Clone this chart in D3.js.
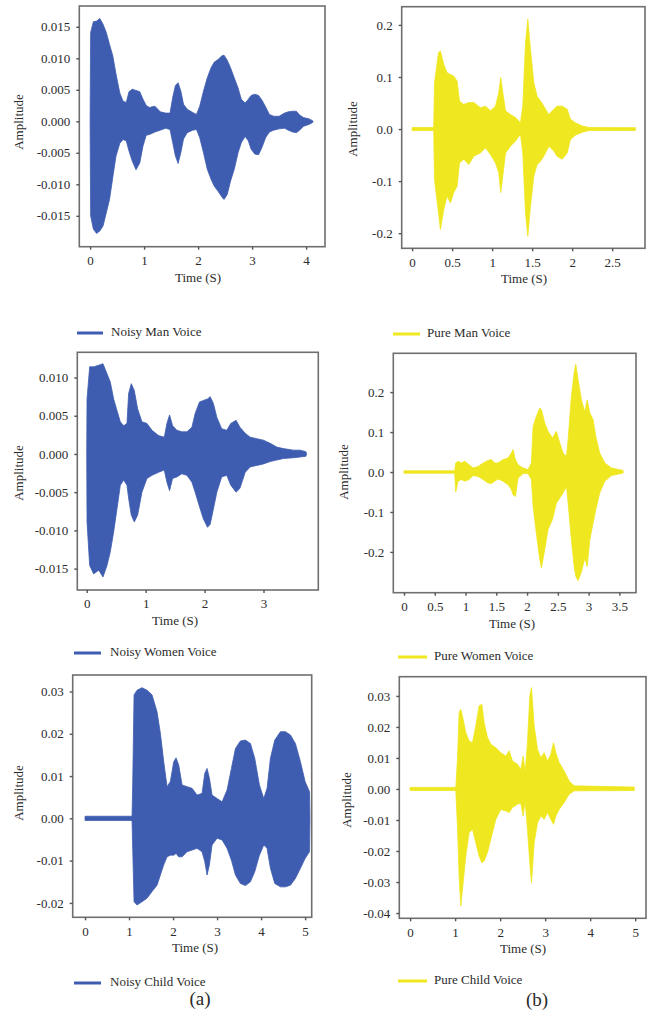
<!DOCTYPE html>
<html>
<head>
<meta charset="utf-8">
<script src="https://cdn.jsdelivr.net/npm/d3@7"></script>
<style>
  html, body { margin: 0; padding: 0; background: #fff; }
  svg { display: block; }
  text { font-family: "Liberation Serif", "Times New Roman", serif; fill: #2b2b2b; }
</style>
</head>
<body>
<svg id="chart" width="652" height="1018"></svg>
<script>
// ---------------- DATA ----------------
// Noisy Man Voice (envelope of the waveform)
const noisyManT  = [0.00,0.01,0.06,0.12,0.18,0.24,0.30,0.36,0.42,0.48,0.55,0.61,0.67,0.72,0.78,0.85,0.92,0.98,1.04,1.10,1.20,1.30,1.40,1.48,1.53,1.58,1.63,1.68,1.73,1.80,1.90,1.97,2.03,2.10,2.17,2.24,2.30,2.37,2.44,2.48,2.54,2.60,2.67,2.74,2.80,2.87,2.93,2.98,3.05,3.12,3.18,3.25,3.32,3.40,3.50,3.60,3.67,3.75,3.82,3.88,3.95,4.05,4.12,4.13];
const noisyManUp = [0.0000,0.0141,0.0158,0.0159,0.0163,0.0154,0.0141,0.0122,0.0104,0.0075,0.0045,0.0032,0.0030,0.0047,0.0051,0.0049,0.0047,0.0035,0.0025,0.0022,0.0024,0.0015,0.0013,0.0013,0.0038,0.0057,0.0061,0.0048,0.0027,0.0019,0.0014,0.0011,0.0024,0.0048,0.0069,0.0085,0.0094,0.0098,0.0104,0.0105,0.0097,0.0085,0.0069,0.0053,0.0035,0.0029,0.0035,0.0041,0.0043,0.0041,0.0034,0.0023,0.0011,0.0008,0.0008,0.0013,0.0015,0.0016,0.0016,0.0010,0.0006,0.0004,0.0001,0.0000];
const noisyManLo = [0.0000,-0.0150,-0.0171,-0.0178,-0.0174,-0.0166,-0.0145,-0.0124,-0.0089,-0.0055,-0.0035,-0.0029,-0.0031,-0.0047,-0.0063,-0.0077,-0.0066,-0.0039,-0.0022,-0.0021,-0.0017,-0.0014,-0.0011,-0.0013,-0.0034,-0.0055,-0.0067,-0.0050,-0.0028,-0.0018,-0.0014,-0.0013,-0.0026,-0.0050,-0.0076,-0.0092,-0.0103,-0.0111,-0.0120,-0.0124,-0.0116,-0.0095,-0.0076,-0.0050,-0.0034,-0.0024,-0.0031,-0.0044,-0.0052,-0.0053,-0.0042,-0.0026,-0.0017,-0.0014,-0.0012,-0.0011,-0.0014,-0.0017,-0.0018,-0.0014,-0.0008,-0.0005,-0.0002,0.0000];

// Pure Man Voice
const pureManT  = [0.00,0.27,0.28,0.33,0.354,0.396,0.4375,0.479,0.52,0.5625,0.592,0.646,0.708,0.771,0.854,0.917,0.979,1.042,1.083,1.108,1.133,1.167,1.229,1.292,1.354,1.383,1.417,1.446,1.479,1.521,1.5625,1.604,1.646,1.708,1.771,1.81,1.875,1.9375,1.979,2.04,2.125,2.208,2.79];
const pureManUp = [0.003,0.003,0.089,0.147,0.150,0.124,0.108,0.105,0.102,0.092,0.054,0.047,0.051,0.051,0.041,0.044,0.035,0.044,0.070,0.099,0.070,0.035,0.028,0.022,0.012,0.044,0.166,0.211,0.153,0.089,0.063,0.054,0.044,0.028,0.038,0.044,0.044,0.038,0.019,0.012,0.006,0.003,0.0026];
const pureManLo = [-0.003,-0.003,-0.097,-0.161,-0.193,-0.154,-0.129,-0.142,-0.122,-0.110,-0.065,-0.058,-0.068,-0.052,-0.046,-0.036,-0.049,-0.065,-0.084,-0.122,-0.090,-0.046,-0.033,-0.023,-0.010,-0.046,-0.161,-0.206,-0.148,-0.090,-0.068,-0.062,-0.052,-0.033,-0.042,-0.052,-0.058,-0.046,-0.020,-0.012,-0.006,-0.003,-0.0026];

// Noisy Women Voice
const noisyWomenT  = [0.00,0.005,0.05,0.118,0.203,0.276,0.344,0.40,0.457,0.513,0.57,0.626,0.683,0.711,0.756,0.807,0.864,0.937,1.022,1.107,1.22,1.316,1.361,1.406,1.457,1.53,1.615,1.70,1.785,1.84,1.914,1.98,2.05,2.095,2.15,2.208,2.29,2.377,2.445,2.535,2.60,2.69,2.773,2.886,3.00,3.112,3.225,3.338,3.508,3.62,3.72,3.73];
const noisyWomenUp = [0.0000,0.0072,0.0114,0.0114,0.0116,0.0118,0.0105,0.0094,0.0072,0.0057,0.0042,0.0037,0.0040,0.0079,0.0092,0.0083,0.0059,0.0042,0.0040,0.0031,0.0024,0.0022,0.0040,0.0051,0.0037,0.0031,0.0029,0.0029,0.0035,0.0053,0.0068,0.0070,0.0072,0.0075,0.0066,0.0048,0.0033,0.0031,0.0040,0.0044,0.0035,0.0027,0.0022,0.0020,0.0018,0.0014,0.0009,0.0007,0.0005,0.0005,0.0003,0.0000];
const noisyWomenLo = [0.0000,-0.0089,-0.0146,-0.0157,-0.0152,-0.0161,-0.0146,-0.0128,-0.0102,-0.0072,-0.0041,-0.0034,-0.0041,-0.0058,-0.0080,-0.0089,-0.0080,-0.0050,-0.0032,-0.0028,-0.0024,-0.0021,-0.0037,-0.0048,-0.0032,-0.0030,-0.0026,-0.0028,-0.0037,-0.0050,-0.0069,-0.0085,-0.0096,-0.0092,-0.0072,-0.0050,-0.0030,-0.0028,-0.0041,-0.0050,-0.0045,-0.0024,-0.0017,-0.0015,-0.0013,-0.0010,-0.0008,-0.0006,-0.0005,-0.0004,-0.0003,0.0000];

// Pure Women Voice
const pureWomenT  = [0.00,0.824,0.84,0.878,0.932,0.986,1.057,1.122,1.203,1.285,1.366,1.42,1.474,1.528,1.61,1.691,1.745,1.772,1.81,1.854,1.935,2.016,2.07,2.098,2.15,2.206,2.233,2.287,2.341,2.412,2.477,2.515,2.585,2.64,2.667,2.72,2.764,2.791,2.829,2.883,2.938,2.976,3.02,3.073,3.117,3.18,3.263,3.371,3.561];
const pureWomenUp = [0.003,0.003,0.0225,0.027,0.0225,0.027,0.018,0.010,0.014,0.0225,0.029,0.031,0.0225,0.0225,0.031,0.035,0.0475,0.056,0.031,0.018,0.010,0.006,0.0225,0.114,0.139,0.160,0.156,0.1225,0.102,0.085,0.102,0.081,0.0475,0.039,0.081,0.189,0.2475,0.270,0.231,0.181,0.150,0.180,0.1475,0.131,0.089,0.0475,0.0225,0.010,0.004];
const pureWomenLo = [-0.003,-0.003,-0.050,-0.023,-0.019,-0.023,-0.019,-0.009,-0.011,-0.019,-0.0275,-0.029,-0.023,-0.0175,-0.023,-0.032,-0.044,-0.057,-0.061,-0.015,-0.004,-0.004,-0.019,-0.086,-0.1525,-0.219,-0.240,-0.194,-0.144,-0.119,-0.0775,-0.069,-0.0525,-0.036,-0.0775,-0.169,-0.236,-0.261,-0.272,-0.250,-0.215,-0.237,-0.169,-0.1275,-0.094,-0.0525,-0.023,-0.009,-0.0025];

// Noisy Child Voice
const noisyChildT  = [0.00,1.068,1.083,1.114,1.182,1.295,1.409,1.523,1.636,1.712,1.788,1.864,1.939,2.015,2.068,2.129,2.205,2.318,2.432,2.545,2.659,2.72,2.773,2.826,2.886,3.00,3.114,3.227,3.326,3.417,3.53,3.644,3.758,3.856,3.962,4.061,4.136,4.212,4.311,4.44,4.553,4.667,4.78,4.894,5.00,5.10,5.11];
const noisyChildUp = [0.0005,0.0005,0.0079,0.0292,0.0303,0.0309,0.0303,0.0292,0.0252,0.0201,0.0134,0.0075,0.0087,0.0134,0.0143,0.0126,0.0079,0.0075,0.0071,0.0055,0.0059,0.0106,0.0118,0.0095,0.0055,0.0047,0.0039,0.0067,0.0118,0.0165,0.0183,0.0185,0.0177,0.0142,0.0079,0.0047,0.0071,0.0142,0.0185,0.0205,0.0205,0.0197,0.0177,0.0134,0.0087,0.0063,0.0000];
const noisyChildLo = [-0.0005,-0.0005,-0.0071,-0.0197,-0.0205,-0.0197,-0.0189,-0.0173,-0.0158,-0.0134,-0.0110,-0.0091,-0.0087,-0.0087,-0.0083,-0.0091,-0.0091,-0.0079,-0.0075,-0.0071,-0.0079,-0.0102,-0.0134,-0.0110,-0.0063,-0.0047,-0.0051,-0.0071,-0.0099,-0.0134,-0.0154,-0.0159,-0.0150,-0.0126,-0.0087,-0.0063,-0.0071,-0.0118,-0.0154,-0.0162,-0.0162,-0.0158,-0.0142,-0.0118,-0.0095,-0.0079,0.0000];

// Pure Child Voice
const pureChildT  = [0.00,1.015,1.052,1.089,1.126,1.178,1.237,1.311,1.385,1.459,1.533,1.593,1.644,1.719,1.793,1.904,2.015,2.126,2.20,2.274,2.385,2.459,2.511,2.556,2.607,2.659,2.696,2.756,2.83,2.904,2.978,3.052,3.126,3.185,3.237,3.311,3.422,3.533,3.644,4.978];
const pureChildUp = [0.0005,0.0005,0.0096,0.0246,0.0257,0.0225,0.0182,0.0155,0.0149,0.0203,0.0268,0.0273,0.0214,0.0166,0.0144,0.0133,0.0117,0.0106,0.0123,0.0090,0.0080,0.0063,0.0106,0.0053,0.0149,0.0300,0.0327,0.0203,0.0128,0.0101,0.0117,0.0090,0.0112,0.0149,0.0117,0.0085,0.0058,0.0026,0.0010,0.0006];
const pureChildLo = [-0.0005,-0.0005,-0.0119,-0.0281,-0.0377,-0.0302,-0.0216,-0.0141,-0.0130,-0.0173,-0.0216,-0.0238,-0.0232,-0.0205,-0.0162,-0.0098,-0.0066,-0.0071,-0.0076,-0.0060,-0.0049,-0.0046,-0.0087,-0.0039,-0.0130,-0.0238,-0.0302,-0.0173,-0.0109,-0.0087,-0.0098,-0.0076,-0.0098,-0.0114,-0.0087,-0.0066,-0.0044,-0.0017,-0.0006,-0.0005];

// Tick values and labels
const xTicksMan      = [0,1,2,3,4];
const yTicksNoisyMan = [-0.015,-0.010,-0.005,0,0.005,0.010,0.015];
const xTicksPureMan  = [0,0.5,1,1.5,2,2.5];
const yTicksPureMan  = [-0.2,-0.1,0,0.1,0.2];
const xTicksWomen      = [0,1,2,3];
const yTicksNoisyWomen = [-0.015,-0.010,-0.005,0,0.005,0.010];
const xTicksPureWomen  = [0,0.5,1,1.5,2,2.5,3,3.5];
const yTicksPureWomen  = [-0.2,-0.1,0,0.1,0.2];
const xTicksChild      = [0,1,2,3,4,5];
const yTicksNoisyChild = [-0.02,-0.01,0,0.01,0.02,0.03];
const yTicksPureChild  = [-0.04,-0.03,-0.02,-0.01,0,0.01,0.02,0.03];

const seriesNames = ["Noisy Man Voice","Pure Man Voice","Noisy Women Voice","Pure Women Voice","Noisy Child Voice","Pure Child Voice"];
const xAxisTitle = "Time (S)";
const yAxisTitle = "Amplitude";
const columnLabels = ["(a)","(b)"];

// ---------------- LAYOUT / STYLE ----------------
const BLUE = "#3f5db0";
const YELLOW = "#efe71f";

const panels = [
  { name: seriesNames[0], t: noisyManT, up: noisyManUp, lo: noisyManLo, color: BLUE,
    xDom: [-0.2, 4.35], yDom: [-0.0199, 0.0183], fx: [79.3, 325], fy: [6, 246.7],
    xt: xTicksMan, yt: yTicksNoisyMan, xf: d3.format("d"), yf: d3.format(".3f"),
    ampX: 20, ampY: 122, timeX: 198, leg: { x1: 77, x2: 103, tx: 111, y: 333 } },
  { name: seriesNames[1], t: pureManT, up: pureManUp, lo: pureManLo, color: YELLOW,
    xDom: [-0.13, 2.91], yDom: [-0.229, 0.235], fx: [401.7, 645], fy: [6.7, 248.3],
    xt: xTicksPureMan, yt: yTicksPureMan, xf: d => String(d), yf: d3.format(".1f"),
    ampX: 354, ampY: 129, timeX: 524, leg: { x1: 393, x2: 420, tx: 427, y: 334 } },
  { name: seriesNames[2], t: noisyWomenT, up: noisyWomenUp, lo: noisyWomenLo, color: BLUE,
    xDom: [-0.16, 3.93], yDom: [-0.0178, 0.0133], fx: [77.3, 318.3], fy: [352.3, 590],
    xt: xTicksWomen, yt: yTicksNoisyWomen, xf: d3.format("d"), yf: d3.format(".3f"),
    ampX: 20, ampY: 473, timeX: 175, leg: { x1: 74, x2: 101, tx: 110, y: 653 } },
  { name: seriesNames[3], t: pureWomenT, up: pureWomenUp, lo: pureWomenLo, color: YELLOW,
    xDom: [-0.174, 3.77], yDom: [-0.302, 0.297], fx: [393.3, 636], fy: [353.3, 592.7],
    xt: xTicksPureWomen, yt: yTicksPureWomen, xf: d => String(d), yf: d3.format(".1f"),
    ampX: 345, ampY: 472, timeX: 512, leg: { x1: 398, x2: 427, tx: 434, y: 657 } },
  { name: seriesNames[4], t: noisyChildT, up: noisyChildUp, lo: noisyChildLo, color: BLUE,
    xDom: [-0.28, 5.15], yDom: [-0.0234, 0.0339], fx: [72.7, 311.7], fy: [675, 917.3],
    xt: xTicksChild, yt: yTicksNoisyChild, xf: d3.format("d"), yf: d3.format(".2f"),
    ampX: 20, ampY: 793, timeX: 195, leg: { x1: 74, x2: 101, tx: 110, y: 983 } },
  { name: seriesNames[5], t: pureChildT, up: pureChildUp, lo: pureChildLo, color: YELLOW,
    xDom: [-0.24, 5.24], yDom: [-0.0417, 0.0362], fx: [399.3, 646], fy: [676.7, 918.3],
    xt: xTicksChild, yt: yTicksPureChild, xf: d3.format("d"), yf: d3.format(".2f"),
    ampX: 348, ampY: 800, timeX: 523, leg: { x1: 398, x2: 427, tx: 434, y: 981 } }
];

const svg = d3.select("#chart");
const fmtMinus = f => (d => f(d).replace("−", "-"));

panels.forEach((p, i) => {
  const x = d3.scaleLinear().domain(p.xDom).range(p.fx);
  const y = d3.scaleLinear().domain(p.yDom).range([p.fy[1], p.fy[0]]);
  const g = svg.append("g");

  const clipId = "clip" + i;
  svg.append("clipPath").attr("id", clipId).append("rect")
    .attr("x", p.fx[0]).attr("y", p.fy[0])
    .attr("width", p.fx[1] - p.fx[0]).attr("height", p.fy[1] - p.fy[0]);

  const rows = p.t.map((t, k) => ({ t, up: p.up[k], lo: p.lo[k] }));
  const area = d3.area().x(d => x(d.t)).y0(d => y(d.lo)).y1(d => y(d.up));
  g.append("path").datum(rows)
    .attr("clip-path", `url(#${clipId})`)
    .attr("d", area)
    .attr("fill", p.color)
    .attr("stroke", p.color)
    .attr("stroke-width", 0.8)
    .attr("stroke-linejoin", "round");

  // frame
  g.append("rect")
    .attr("x", p.fx[0]).attr("y", p.fy[0])
    .attr("width", p.fx[1] - p.fx[0]).attr("height", p.fy[1] - p.fy[0])
    .attr("fill", "none").attr("stroke", "#6f6f6f").attr("stroke-width", 1.6);

  // axes
  const xa = g.append("g").attr("transform", `translate(0,${p.fy[1]})`)
    .call(d3.axisBottom(x).tickValues(p.xt).tickFormat(p.xf).tickSize(3).tickPadding(6));
  const ya = g.append("g").attr("transform", `translate(${p.fx[0]},0)`)
    .call(d3.axisLeft(y).tickValues(p.yt).tickFormat(fmtMinus(p.yf)).tickSize(3).tickPadding(6));
  [xa, ya].forEach(a => {
    a.select(".domain").remove();
    a.selectAll(".tick line").attr("stroke", "#555").attr("stroke-width", 1.4);
    a.selectAll(".tick text").attr("font-size", 13)
      .style("font-family", '"Liberation Serif","Times New Roman",serif').attr("fill", "#2b2b2b");
  });

  // axis titles
  g.append("text").attr("x", p.timeX).attr("y", p.fy[1] + 32)
    .attr("text-anchor", "middle").attr("dominant-baseline", "middle")
    .attr("font-size", 13).text(xAxisTitle);
  g.append("text")
    .attr("transform", `translate(${p.ampX},${p.ampY}) rotate(-90)`)
    .attr("text-anchor", "middle").attr("dominant-baseline", "middle")
    .attr("font-size", 13).text(yAxisTitle);

  // legend
  g.append("line").attr("x1", p.leg.x1).attr("x2", p.leg.x2)
    .attr("y1", p.leg.y).attr("y2", p.leg.y)
    .attr("stroke", p.color).attr("stroke-width", 3);
  g.append("text").attr("x", p.leg.tx).attr("y", p.leg.y)
    .attr("dominant-baseline", "middle").attr("font-size", 13).text(p.name);
});

// column labels
svg.append("text").attr("x", 200).attr("y", 1001).attr("text-anchor", "middle")
  .attr("dominant-baseline", "middle").attr("font-size", 19).attr("fill", "#111").text(columnLabels[0]);
svg.append("text").attr("x", 537).attr("y", 1002).attr("text-anchor", "middle")
  .attr("dominant-baseline", "middle").attr("font-size", 19).attr("fill", "#111").text(columnLabels[1]);
</script>
</body>
</html>
